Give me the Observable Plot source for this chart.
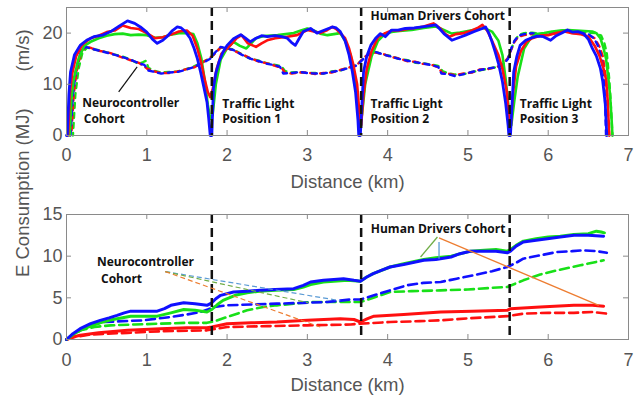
<!DOCTYPE html>
<html><head><meta charset="utf-8">
<script src="https://cdn.jsdelivr.net/npm/d3@7"></script>
<script src="https://cdn.jsdelivr.net/npm/@observablehq/plot@0.6"></script>
<style>
body{margin:0;background:#fff;}
#chart{width:644px;height:398px;}
#chart svg{display:block;overflow:visible;}
</style></head><body><div id="chart"></div><script>
// ---------- axes / ticks ----------
const xTicks = [0,1,2,3,4,5,6,7];
const speedTicks = [0,10,20];
const energyTicks = [0,5,10,15];
const lightPositions = [1.81, 3.67, 5.52];

// ---------- speed (m/s) vs distance (km): human drivers (solid) ----------
const speedHumanBlue = [[0,0],[0.01,0],[0.03,8],[0.05,12.4],[0.1,15.8],[0.17,17.6],[0.25,18.6],[0.34,19.3],[0.45,19.6],[0.55,20.3],[0.65,21.3],[0.76,22.4],[0.85,21.9],[0.92,21.2],[1.0,20.2],[1.07,18.8],[1.13,18.0],[1.2,18.6],[1.25,19.3],[1.32,20.5],[1.38,21.2],[1.43,21.0],[1.48,20.3],[1.54,19.0],[1.59,17.0],[1.63,15.0],[1.67,12.4],[1.71,9.5],[1.75,6.5],[1.77,3.5],[1.79,0],[1.81,0],[1.83,9.2],[1.86,12.2],[1.9,14.4],[1.95,16.3],[2.0,17.6],[2.08,18.9],[2.17,19.7],[2.23,19.0],[2.29,18.3],[2.36,19.0],[2.43,19.5],[2.5,19.3],[2.6,19.5],[2.68,19.3],[2.75,19.0],[2.8,18.2],[2.85,17.6],[2.9,19.0],[2.95,20.3],[3.04,20.9],[3.12,20.0],[3.2,20.5],[3.31,21.2],[3.36,21.0],[3.41,20.3],[3.47,18.5],[3.52,15.7],[3.56,12.5],[3.6,8.5],[3.63,3],[3.64,0],[3.66,0],[3.7,12.4],[3.74,15.5],[3.79,17.6],[3.85,19.0],[3.91,19.9],[3.97,19.3],[4.05,20.6],[4.13,20.6],[4.22,20.9],[4.33,21.0],[4.43,21.2],[4.52,21.4],[4.6,21.6],[4.65,20.8],[4.7,19.9],[4.8,18.6],[4.9,19.2],[4.97,19.6],[5.08,20.3],[5.18,20.9],[5.22,21.2],[5.26,20.0],[5.3,18.3],[5.34,16.3],[5.38,14.1],[5.43,10.5],[5.47,6.3],[5.5,2],[5.51,0],[5.53,0],[5.57,12.4],[5.61,15.5],[5.65,17.6],[5.72,18.6],[5.78,19.0],[5.86,19.4],[5.94,19.3],[6.03,18.6],[6.1,19.5],[6.17,20.0],[6.24,20.6],[6.3,20.2],[6.37,20.3],[6.44,19.9],[6.5,18.8],[6.55,17.0],[6.6,15.5],[6.65,13.1],[6.68,10.5],[6.71,6.3],[6.73,0]];
const speedHumanRed = [[0.02,0],[0.04,8],[0.07,12],[0.12,15.5],[0.2,17.8],[0.3,19.0],[0.4,19.5],[0.5,20.2],[0.6,20.5],[0.7,21.5],[0.8,21.0],[0.9,20.8],[1.0,20.0],[1.1,19.0],[1.2,19.2],[1.3,19.7],[1.4,20.3],[1.5,20.5],[1.57,19.5],[1.63,17.0],[1.68,14.0],[1.72,11.0],[1.76,8.5],[1.79,7.5],[1.82,9.0],[1.87,13.0],[1.93,16.0],[2.04,17.6],[2.12,19.0],[2.18,19.6],[2.26,18.0],[2.36,17.3],[2.43,18.0],[2.5,18.6],[2.6,19.0],[2.75,19.3],[2.87,19.6],[3.0,20.6],[3.08,20.3],[3.16,20.0],[3.25,20.6],[3.31,21.2],[3.36,20.8],[3.41,20.0],[3.47,19.0],[3.52,17.0],[3.57,14.0],[3.62,10.0],[3.65,4],[3.67,2],[3.7,8],[3.74,13],[3.8,16.5],[3.88,19.2],[3.97,20.0],[4.05,20.5],[4.15,20.5],[4.25,20.8],[4.35,21.0],[4.45,21.3],[4.57,21.9],[4.65,21.0],[4.72,19.8],[4.77,19.3],[4.85,19.8],[4.95,20.0],[5.05,20.5],[5.12,21.0],[5.18,21.6],[5.24,20.5],[5.3,18.5],[5.38,15.7],[5.43,13.0],[5.48,9.0],[5.51,4],[5.53,1],[5.56,8],[5.6,13.5],[5.66,16.5],[5.73,18.3],[5.8,19.0],[5.9,19.5],[6.0,19.6],[6.1,20.0],[6.2,20.3],[6.3,20.0],[6.4,19.8],[6.5,19.3],[6.58,17.5],[6.64,15.5],[6.69,13.0],[6.72,11.0],[6.74,7],[6.76,0]];
const speedHumanGreen = [[0.04,0],[0.06,7],[0.09,11],[0.15,15.0],[0.22,17.5],[0.3,18.3],[0.4,19.0],[0.5,19.5],[0.6,19.8],[0.7,19.9],[0.8,19.6],[0.9,19.7],[1.0,19.6],[1.1,19.1],[1.2,19.2],[1.3,19.7],[1.4,20.0],[1.5,20.0],[1.58,19.8],[1.63,18.0],[1.68,15.0],[1.72,11.0],[1.76,6.0],[1.79,3.3],[1.82,4],[1.86,10],[1.92,14.8],[2.0,17.0],[2.08,18.3],[2.16,17.5],[2.24,17.0],[2.3,18.0],[2.36,19.0],[2.45,19.4],[2.55,19.5],[2.63,19.6],[2.73,19.8],[2.83,20.0],[2.92,20.5],[3.0,20.9],[3.08,20.5],[3.16,19.9],[3.25,19.6],[3.33,19.8],[3.41,20.0],[3.47,18.5],[3.54,15.7],[3.58,12],[3.62,7],[3.65,2],[3.68,4],[3.72,10],[3.8,15.5],[3.88,18.5],[3.97,19.9],[4.05,20.2],[4.15,20.4],[4.3,20.6],[4.45,21.0],[4.6,21.3],[4.7,20.6],[4.8,19.9],[4.9,20.1],[5.0,20.4],[5.1,20.7],[5.2,21.0],[5.3,20.3],[5.38,18.5],[5.43,15.7],[5.47,11],[5.51,5],[5.54,2],[5.58,7],[5.62,11.5],[5.7,17.0],[5.78,19.0],[5.85,19.8],[5.95,20.0],[6.05,20.3],[6.15,20.5],[6.25,20.6],[6.35,20.5],[6.45,20.4],[6.55,20.3],[6.6,20.0],[6.65,19.0],[6.69,17.0],[6.72,15.0],[6.75,11],[6.77,8.0],[6.79,3],[6.8,0]];

// ---------- speed: neurocontroller (dashed) ----------
const speedNeuroBlue = [[0.05,0],[0.08,8],[0.12,13],[0.18,16.5],[0.24,17.3],[0.3,17.0],[0.4,16.6],[0.55,16.0],[0.7,15.3],[0.8,14.8],[0.9,14.1],[0.97,13.8],[1.02,12.7],[1.1,12.4],[1.18,12.1],[1.28,12.3],[1.38,12.4],[1.48,12.8],[1.59,13.4],[1.7,14.2],[1.79,15.0],[1.85,16.2],[1.92,17.3],[2.0,17.0],[2.08,16.7],[2.18,15.8],[2.29,15.0],[2.4,14.5],[2.5,14.0],[2.6,13.7],[2.66,13.4],[2.7,12.1],[2.8,12.2],[2.91,12.4],[3.0,12.2],[3.1,12.1],[3.2,12.1],[3.3,12.4],[3.41,12.7],[3.52,13.2],[3.62,13.7],[3.7,15.0],[3.78,16.0],[3.85,16.3],[3.95,15.8],[4.05,15.4],[4.13,15.0],[4.25,14.6],[4.35,14.3],[4.43,14.1],[4.53,13.8],[4.63,13.4],[4.67,12.1],[4.75,12.0],[4.84,11.6],[4.95,12.0],[5.05,12.4],[5.15,12.8],[5.26,13.1],[5.38,13.4],[5.45,14.0],[5.5,15.0],[5.54,17.0],[5.58,18.5],[5.63,19.5],[5.7,19.8],[5.8,20.0],[5.9,19.6],[6.0,19.8],[6.1,20.2],[6.2,20.5],[6.3,20.2],[6.4,20.0],[6.5,19.8],[6.57,19.0],[6.62,17.5],[6.66,15.5],[6.69,12],[6.71,6],[6.72,0]];
const speedNeuroRed = [[0.06,0],[0.09,8],[0.13,13],[0.19,16.6],[0.25,17.4],[0.32,17.0],[0.42,16.5],[0.55,16.1],[0.7,15.2],[0.8,14.7],[0.9,14.2],[0.96,13.6],[1.01,13.0],[1.1,12.5],[1.18,12.2],[1.28,12.2],[1.38,12.5],[1.48,12.9],[1.59,13.3],[1.7,14.3],[1.79,15.2],[1.85,16.0],[1.92,17.2],[2.0,17.1],[2.08,16.6],[2.18,15.9],[2.29,15.1],[2.4,14.4],[2.5,14.1],[2.6,13.6],[2.68,13.2],[2.72,12.3],[2.8,12.1],[2.91,12.3],[3.0,12.3],[3.1,12.0],[3.2,12.2],[3.3,12.3],[3.41,12.8],[3.52,13.3],[3.62,13.8],[3.7,15.2],[3.78,16.1],[3.85,16.2],[3.95,15.9],[4.05,15.3],[4.13,15.1],[4.25,14.5],[4.35,14.4],[4.43,14.0],[4.53,13.9],[4.63,13.3],[4.68,12.2],[4.75,12.1],[4.84,11.8],[4.95,12.1],[5.05,12.3],[5.15,12.9],[5.26,13.0],[5.38,13.5],[5.45,14.2],[5.5,15.2],[5.54,16.8],[5.58,18.3],[5.63,19.3],[5.7,19.6],[5.8,19.8],[5.9,19.5],[6.0,19.7],[6.1,20.0],[6.2,20.3],[6.3,20.0],[6.4,19.9],[6.5,19.6],[6.58,19.0],[6.64,17.3],[6.68,15.5],[6.72,11],[6.74,6],[6.76,0]];
const speedNeuroGreen = [[0.08,0],[0.11,8],[0.15,13],[0.2,16.3],[0.26,17.2],[0.32,16.9],[0.42,16.6],[0.55,16.0],[0.7,15.4],[0.8,14.8],[0.9,14.0],[0.95,14.3],[0.99,14.6],[1.02,13.2],[1.1,12.6],[1.18,12.3],[1.28,12.4],[1.38,12.5],[1.48,12.9],[1.59,13.5],[1.7,14.4],[1.79,15.1],[1.85,16.1],[1.92,17.2],[2.0,17.0],[2.08,16.8],[2.18,15.9],[2.29,15.0],[2.4,14.6],[2.5,14.1],[2.6,13.8],[2.68,13.5],[2.72,12.6],[2.8,12.3],[2.91,12.4],[3.0,12.2],[3.1,12.2],[3.2,12.1],[3.3,12.5],[3.41,12.7],[3.52,13.3],[3.62,13.8],[3.7,15.1],[3.78,16.0],[3.85,16.3],[3.95,15.8],[4.05,15.5],[4.13,15.0],[4.25,14.7],[4.35,14.2],[4.43,14.1],[4.53,13.9],[4.63,13.6],[4.69,12.5],[4.75,12.2],[4.84,11.9],[4.95,12.0],[5.05,12.4],[5.15,12.7],[5.26,13.1],[5.38,13.4],[5.45,14.1],[5.5,15.1],[5.54,16.9],[5.58,18.4],[5.63,19.6],[5.7,20.0],[5.8,20.1],[5.9,19.8],[6.0,20.0],[6.1,20.3],[6.2,20.5],[6.3,20.3],[6.4,20.2],[6.5,20.1],[6.6,20.0],[6.66,19.5],[6.7,18],[6.73,16],[6.76,11],[6.78,6],[6.8,0]];

// ---------- energy (MJ) vs distance: human drivers (solid) ----------
const energyHumanBlue = [[0,0],[0.08,0.7],[0.17,1.3],[0.3,1.9],[0.42,2.3],[0.53,2.6],[0.63,2.9],[0.72,3.2],[0.8,3.4],[0.95,3.4],[1.13,3.4],[1.22,3.7],[1.3,4.1],[1.46,4.4],[1.6,4.3],[1.75,4.1],[1.81,4.4],[1.86,4.9],[1.92,5.3],[2.08,5.7],[2.25,5.8],[2.41,5.9],[2.6,6.0],[2.83,6.1],[2.95,6.5],[3.04,6.9],[3.2,7.1],[3.33,7.2],[3.45,7.3],[3.58,7.1],[3.66,7.0],[3.74,7.5],[3.82,7.9],[3.92,8.3],[4.03,8.7],[4.2,9.0],[4.45,9.5],[4.6,9.6],[4.79,9.9],[4.9,10.3],[5.03,10.6],[5.2,10.6],[5.35,10.6],[5.49,10.4],[5.53,10.6],[5.6,11.2],[5.69,11.7],[5.85,11.9],[5.99,12.1],[6.15,12.3],[6.32,12.5],[6.5,12.5],[6.69,12.4]];
const energyHumanGreen = [[0,0],[0.08,0.6],[0.17,1.1],[0.3,1.6],[0.42,2.0],[0.53,2.3],[0.63,2.5],[0.8,2.8],[0.95,2.8],[1.13,2.8],[1.3,3.2],[1.46,3.6],[1.6,3.5],[1.75,3.3],[1.81,3.6],[1.88,4.2],[1.95,4.7],[2.1,5.3],[2.25,5.6],[2.4,5.8],[2.6,5.9],[2.83,6.0],[2.95,6.3],[3.04,6.6],[3.2,6.9],[3.33,7.0],[3.5,7.1],[3.66,7.0],[3.74,7.5],[3.82,7.9],[4.03,8.7],[4.2,9.1],[4.45,9.6],[4.6,9.8],[4.79,10.0],[5.03,10.6],[5.2,10.7],[5.35,10.8],[5.49,10.6],[5.53,10.8],[5.6,11.3],[5.69,11.8],[5.85,12.1],[6.0,12.3],[6.15,12.4],[6.32,12.6],[6.5,12.7],[6.6,13.0],[6.66,12.9],[6.7,12.8]];
const energyHumanRed = [[0,0],[0.08,0.3],[0.17,0.5],[0.4,0.8],[0.76,1.1],[1.17,1.3],[1.5,1.4],[1.75,1.4],[1.81,1.5],[2.0,1.9],[2.3,2.0],[2.62,2.1],[3.0,2.3],[3.41,2.5],[3.58,2.4],[3.66,2.1],[3.75,2.5],[3.83,2.8],[4.2,3.0],[4.66,3.3],[5.05,3.4],[5.49,3.5],[5.53,3.7],[5.9,3.9],[6.32,4.1],[6.55,4.1],[6.69,4.0]];

// ---------- energy: neurocontroller (dashed) ----------
const energyNeuroBlue = [[0,0],[0.08,0.6],[0.17,1.1],[0.3,1.7],[0.46,2.1],[0.7,2.2],[0.96,2.3],[1.12,2.5],[1.3,2.7],[1.5,3.0],[1.67,3.3],[1.76,3.6],[1.83,3.9],[2.0,4.1],[2.3,4.2],[2.62,4.3],[2.95,4.4],[3.25,4.5],[3.54,4.8],[3.66,4.8],[3.83,5.3],[4.03,5.9],[4.24,6.5],[4.45,6.8],[4.66,6.9],[4.86,7.3],[5.07,7.7],[5.3,8.2],[5.49,8.7],[5.6,9.2],[5.69,9.7],[5.9,10.1],[6.11,10.5],[6.3,10.6],[6.44,10.7],[6.6,10.6],[6.73,10.4]];
const energyNeuroGreen = [[0,0],[0.08,0.6],[0.17,1.1],[0.35,1.5],[0.55,1.7],[0.85,1.8],[1.17,1.9],[1.5,2.0],[1.75,2.0],[1.85,2.2],[2.0,2.7],[2.25,3.5],[2.45,3.9],[2.62,4.1],[2.85,4.3],[3.04,4.5],[3.3,4.5],[3.54,4.5],[3.66,4.5],[3.85,5.1],[4.03,5.7],[4.3,5.8],[4.66,5.9],[5.0,6.0],[5.3,6.2],[5.49,6.3],[5.69,7.1],[5.9,7.8],[6.11,8.3],[6.4,8.9],[6.69,9.5]];
const energyNeuroRed = [[0,0],[0.1,0.3],[0.3,0.6],[0.76,0.8],[1.2,1.0],[1.75,1.1],[2.0,1.5],[2.5,1.6],[3.0,1.7],[3.54,1.8],[3.66,1.9],[4.03,2.1],[4.4,2.2],[4.66,2.3],[5.1,2.6],[5.49,2.8],[5.69,3.1],[6.0,3.2],[6.32,3.2],[6.55,3.3],[6.73,3.1]];

// ---------- annotations ----------
const topNoteText = ["Neurocontroller","Cohort","Traffic Light","Position 1","Traffic Light","Position 2","Traffic Light","Position 3","Human Drivers Cohort"];
const topNoteX = [0.195,0.215,1.94,1.94,3.786,3.786,5.645,5.645,3.786];
const topNoteY = [6.3,3.2,6.2,3.2,6.2,3.2,6.2,3.2,23.3];
const topPointer = [[0.65,8.5],[0.88,13.4]];

const bottomNoteText = ["Neurocontroller","Cohort","Human Drivers Cohort"];
const bottomNoteX = [0.38,0.43,3.79];
const bottomNoteY = [9.3,7.3,13.3];
// leader lines: [x1,y1,x2,y2]
const neuroLeaders = [[1.23,8.15,3.41,4.65],[1.23,8.15,3.01,4.4],[1.23,8.15,3.16,1.5]];
const neuroLeaderColors = ["#5B9BD5","#70AD47","#ED7D31"];
const humanLeaders = [[4.62,12.3,4.41,9.9],[4.64,11.7,4.64,9.7],[4.64,12.2,6.63,4.1]];
const humanLeaderColors = ["#70AD47","#5B9BD5","#ED7D31"];

// ---------- drawing ----------
const W = 644, ML = 66, MR = 16;
const innerW = W - ML - MR;
const RED = "#ff1010", GREEN = "#18e018", BLUE = "#1010ff";
const tickFont = "Liberation Sans, Arial, Helvetica, sans-serif";
const noteFont = "Open Sans, sans-serif";
const toRows = pts => pts.map(([x, y]) => ({x, y}));
const fmt = d => String(d);

function frameMarks(innerH, xt, yt) {
  const st = "#8a8a8a";
  return [
    Plot.ruleX(xt, {x: d => d, insetTop: innerH - 5, stroke: st}),
    Plot.ruleX(xt, {x: d => d, insetBottom: innerH - 5, stroke: st}),
    Plot.ruleY(yt, {y: d => d, insetRight: innerW - 5, stroke: st}),
    Plot.ruleY(yt, {y: d => d, insetLeft: innerW - 5, stroke: st}),
    Plot.frame({stroke: st, strokeWidth: 1})
  ];
}
function lineMark(pts, color, dash, sw, offset) {
  return Plot.line(toRows(pts), {x: "x", y: "y", stroke: color, strokeWidth: sw,
    strokeDasharray: dash || undefined, strokeDashoffset: offset || 0, strokeLinejoin: "round"});
}
function notes(texts, xs, ys) {
  return Plot.text(texts.map((t, i) => ({t, x: xs[i], y: ys[i]})), {
    x: "x", y: "y", text: "t", textAnchor: "start", lineAnchor: "middle",
    fontFamily: noteFont, fontWeight: "bold", fontSize: 12, fill: "#111"});
}

// top panel
const topH = 192, topMT = 7, topMB = 57;
const topInnerH = topH - topMT - topMB;
const topPlot = Plot.plot({
  width: W, height: topH, marginTop: topMT, marginBottom: topMB, marginLeft: ML, marginRight: MR,
  style: {fontFamily: tickFont, background: "#fff", overflow: "visible"},
  x: {domain: [0, 7]}, y: {domain: [0, 25]},
  marks: [
    lineMark(speedNeuroGreen, GREEN, "5,5", 2.4, 2.5),
    lineMark(speedNeuroRed, RED, "5,5", 2.4, 5),
    lineMark(speedNeuroBlue, BLUE, "5,5", 2.4, 0),
    lineMark(speedHumanGreen, GREEN, null, 2.6),
    lineMark(speedHumanRed, RED, null, 2.6),
    lineMark(speedHumanBlue, BLUE, null, 2.8),
    Plot.ruleX(lightPositions, {x: d => d, stroke: "#111", strokeWidth: 2.5, strokeDasharray: "9,5"}),
    ...frameMarks(topInnerH, xTicks, speedTicks),
    Plot.axisX({ticks: xTicks, tickFormat: fmt, tickSize: 0, tickPadding: 13, fontSize: 18, color: "#555", label: null}),
    Plot.axisY({ticks: speedTicks, tickFormat: fmt, tickSize: 0, tickPadding: 4, fontSize: 18, color: "#555", label: null}),
    Plot.text(["Distance (km)"], {frameAnchor: "bottom", dy: 47, text: d => d, fontSize: 18.5, fill: "#555", lineAnchor: "middle"}),
    Plot.text(["(m/s)"], {frameAnchor: "left", dx: -43, rotate: -90, text: d => d, fontSize: 18.5, fill: "#555", lineAnchor: "middle"}),
    notes(topNoteText, topNoteX, topNoteY),
    Plot.link([topPointer], {x1: d => d[0][0], y1: d => d[0][1], x2: d => d[1][0], y2: d => d[1][1], stroke: "#111", strokeWidth: 1.2})
  ]
});

// bottom panel
const botH = 206, botMT = 22, botMB = 59;
const botInnerH = botH - botMT - botMB;
const bottomPlot = Plot.plot({
  width: W, height: botH, marginTop: botMT, marginBottom: botMB, marginLeft: ML, marginRight: MR,
  style: {fontFamily: tickFont, background: "transparent", overflow: "visible"},
  x: {domain: [0, 7]}, y: {domain: [0, 15]},
  marks: [
    lineMark(energyNeuroGreen, GREEN, "9,5", 2.6),
    lineMark(energyNeuroBlue, BLUE, "9,5", 2.6),
    lineMark(energyNeuroRed, RED, "9,5", 2.6),
    lineMark(energyHumanRed, RED, null, 3),
    lineMark(energyHumanGreen, GREEN, null, 3),
    lineMark(energyHumanBlue, BLUE, null, 3),
    Plot.ruleX(lightPositions, {x: d => d, stroke: "#111", strokeWidth: 2.5, strokeDasharray: "9,5"}),
    ...frameMarks(botInnerH, xTicks, energyTicks),
    Plot.axisX({ticks: xTicks, tickFormat: fmt, tickSize: 0, tickPadding: 14, fontSize: 18, color: "#555", label: null}),
    Plot.axisY({ticks: energyTicks, tickFormat: fmt, tickSize: 0, tickPadding: 4, fontSize: 18, color: "#555", label: null}),
    Plot.text(["Distance (km)"], {frameAnchor: "bottom", dy: 46, text: d => d, fontSize: 18.5, fill: "#555", lineAnchor: "middle"}),
    Plot.text(["E Consumption (MJ)"], {frameAnchor: "left", dx: -43, rotate: -90, text: d => d, fontSize: 18.5, fill: "#555", lineAnchor: "middle"}),
    Plot.link(neuroLeaders, {x1: d => d[0], y1: d => d[1], x2: d => d[2], y2: d => d[3],
      stroke: (d, i) => neuroLeaderColors[i], strokeWidth: 1.2, strokeDasharray: "5,3"}),
    Plot.link(humanLeaders, {x1: d => d[0], y1: d => d[1], x2: d => d[2], y2: d => d[3],
      stroke: (d, i) => humanLeaderColors[i], strokeWidth: 1.3}),
    notes(bottomNoteText, bottomNoteX, bottomNoteY)
  ]
});

const root = document.getElementById("chart");
root.appendChild(topPlot);
root.appendChild(bottomPlot);
</script></body></html>
